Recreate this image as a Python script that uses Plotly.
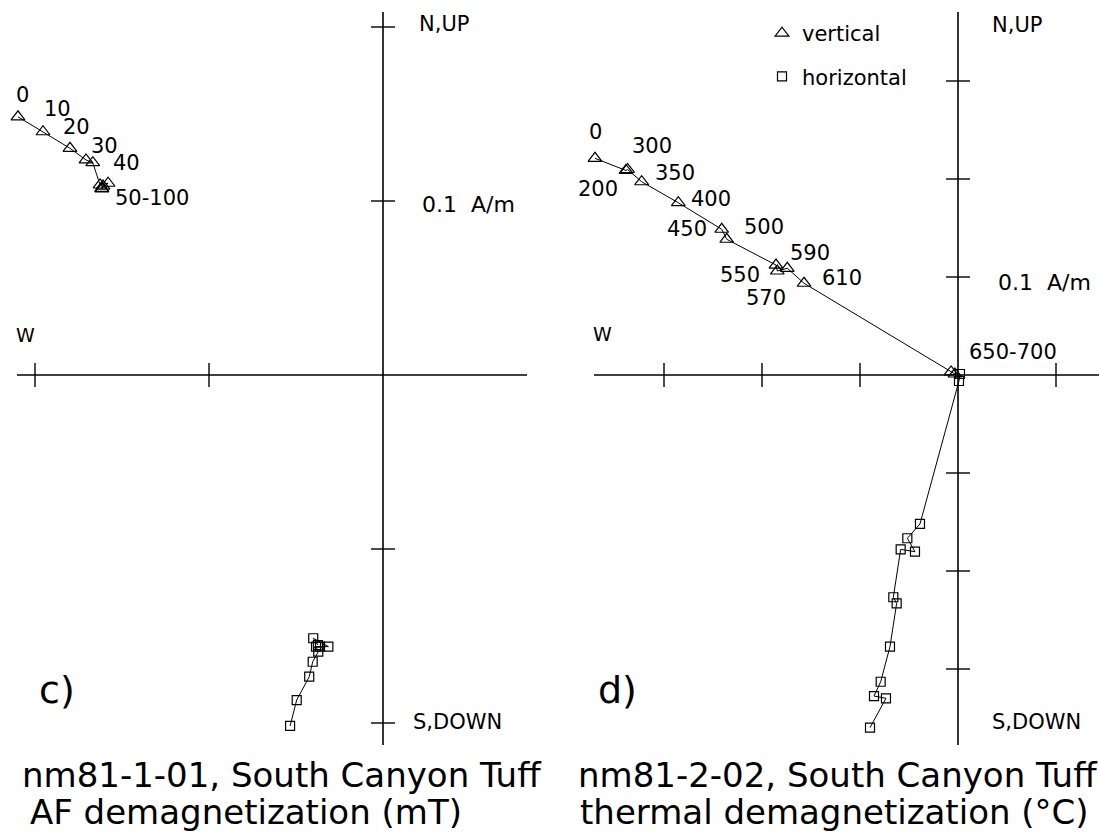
import plotly.graph_objects as go

W, H = 1099, 835

# ---------------- data (A/m) ----------------
# Panel c) nm81-1-01, AF demagnetization (mT)
c_steps = ["0", "10", "20", "30", "40", "50", "60", "70", "80", "100"]
c_vert_x = [-0.2098, -0.1954, -0.1799, -0.1707, -0.1668, -0.1626, -0.1580, -0.1617, -0.1609, -0.1615]
c_vert_y = [0.1484, 0.1398, 0.1303, 0.1236, 0.1220, 0.1092, 0.1102, 0.1073, 0.1086, 0.1069]
c_horiz_x = [-0.0534, -0.0496, -0.0424, -0.0404, -0.0372, -0.0385, -0.0362, -0.0314, -0.0401, -0.0374]
c_horiz_y = [-0.2017, -0.1868, -0.1734, -0.1648, -0.1590, -0.1561, -0.1561, -0.1561, -0.1513, -0.1552]
c_label_text = ["0", "10", "20", "30", "40", "50-100"]
c_label_step = ["0", "10", "20", "30", "40", "50"]

# Panel d) nm81-2-02, thermal demagnetization (C)
d_steps = ["0", "200", "300", "350", "400", "450", "500", "550", "570", "590", "610", "650", "700"]
d_vert_x = [-0.3704, -0.3388, -0.3372, -0.3228, -0.2854, -0.2411, -0.2360, -0.1857, -0.1844, -0.1742, -0.1571, -0.0071, -0.0031]
d_vert_y = [0.2211, 0.2087, 0.2097, 0.1972, 0.1758, 0.1487, 0.1385, 0.1122, 0.1061, 0.1089, 0.0936, 0.0031, 0.0010]
d_horiz_x = [-0.0898, -0.0735, -0.0857, -0.0789, -0.0694, -0.0626, -0.0660, -0.0585, -0.0439, -0.0517, -0.0388, 0.0010, 0.0020]
d_horiz_y = [-0.3599, -0.3299, -0.3276, -0.3130, -0.2772, -0.2330, -0.2268, -0.1779, -0.1803, -0.1666, -0.1520, -0.0061, 0.0010]
d_label_text = ["0", "200", "300", "350", "400", "450", "500", "550", "570", "590", "610", "650-700"]
d_label_step = ["0", "200", "300", "350", "400", "450", "500", "550", "570", "590", "610", "700"]

# axis ticks (A/m)
c_xticks = [-0.2, -0.1]
c_yticks = [0.2, 0.1, -0.1, -0.2]
d_xticks = [-0.3, -0.2, -0.1, 0.1]
d_yticks = [0.3, 0.2, 0.1, -0.1, -0.2, -0.3]

# ---------------- layout / styling ----------------
FONT = "DejaVu Sans"
# label pixel offsets (dx right, dy down) from the labelled point
c_label_off = [(5, -22), (14, -23), (7, -21), (19, -14), (34, 0), (52, 13)]
d_label_off = [(0, -26), (-28, 19), (24, -23), (33, -9), (33, -4), (-35, 0), (37, -12),
               (-36, 10), (-11, 27), (23, -15), (38, -5), (58, -22)]

panels = [
    dict(xa="x", ya="y", ox=383, oy=375, s=1740, dom=(0, 572),
         ext=(17, 527, 12, 745), steps=c_steps,
         vx=c_vert_x, vy=c_vert_y, hx=c_horiz_x, hy=c_horiz_y,
         lt=c_label_text, ls=c_label_step, lo=c_label_off,
         xt=c_xticks, yt=c_yticks,
         up_lbl=(444, 24), a_lbl=(468, 204), down_lbl=(457, 722), w_lbl=(25, 335),
         panel_lbl=("c)", 57, 690),
         cap1=("nm81-1-01, South Canyon Tuff", 20, 775),
         cap2=("AF demagnetization (mT)", 28, 812)),
    dict(xa="x2", ya="y2", ox=958, oy=375, s=980, dom=(574, 1099),
         ext=(594, 1099, 12, 745), steps=d_steps,
         vx=d_vert_x, vy=d_vert_y, hx=d_horiz_x, hy=d_horiz_y,
         lt=d_label_text, ls=d_label_step, lo=d_label_off,
         xt=d_xticks, yt=d_yticks,
         up_lbl=(1017, 25), a_lbl=(1044, 282), down_lbl=(1036, 722), w_lbl=(602, 334),
         panel_lbl=("d)", 617, 690),
         cap1=("nm81-2-02, South Canyon Tuff", 576, 775),
         cap2=("thermal demagnetization (°C)", 578, 812)),
]

fig = go.Figure()
shapes = []
annotations = []
TICK = 12  # px half length

def ann_px(text, px, py, size=20, xanchor="center"):
    annotations.append(dict(text=text, x=px / W, y=1 - py / H, xref="paper", yref="paper",
                            showarrow=False, xanchor=xanchor, yanchor="middle",
                            font=dict(family=FONT, size=size, color="black")))

layout_axes = {}
for i, p in enumerate(panels):
    s, ox, oy = p["s"], p["ox"], p["oy"]
    x0, x1 = p["dom"]
    xname = "xaxis" if i == 0 else "xaxis2"
    yname = "yaxis" if i == 0 else "yaxis2"
    layout_axes[xname] = dict(domain=[x0 / W, x1 / W], range=[(x0 - ox) / s, (x1 - ox) / s],
                              visible=False, fixedrange=True)
    layout_axes[yname] = dict(domain=[0, 1], range=[(oy - H) / s, oy / s],
                              visible=False, fixedrange=True,
                              anchor=p["xa"])
    if i == 1:
        layout_axes[xname]["anchor"] = p["ya"]

    ex0, ex1, ey0, ey1 = p["ext"]
    lc = dict(color="black", width=1.6)
    xr, yr = p["xa"], p["ya"]
    # main axes
    shapes.append(dict(type="line", xref=xr, yref=yr, x0=(ex0 - ox) / s, x1=(ex1 - ox) / s,
                       y0=0, y1=0, line=lc))
    shapes.append(dict(type="line", xref=xr, yref=yr, x0=0, x1=0,
                       y0=(oy - ey0) / s, y1=(oy - ey1) / s, line=lc))
    h = TICK / s
    for tv in p["xt"]:
        shapes.append(dict(type="line", xref=xr, yref=yr, x0=tv, x1=tv, y0=-h, y1=h,
                           line=dict(color="black", width=1.4)))
    for tv in p["yt"]:
        shapes.append(dict(type="line", xref=xr, yref=yr, x0=-h, x1=h, y0=tv, y1=tv,
                           line=dict(color="black", width=1.4)))

    # data traces
    fig.add_trace(go.Scatter(x=p["vx"], y=p["vy"], xaxis=xr, yaxis=yr, mode="lines+markers",
                             line=dict(color="black", width=1),
                             marker=dict(symbol="triangle-up-open", size=12, color="black",
                                         line=dict(width=1.2, color="black")),
                             text=p["steps"], showlegend=False, cliponaxis=False,
                             name="vertical"))
    fig.add_trace(go.Scatter(x=p["hx"], y=p["hy"], xaxis=xr, yaxis=yr, mode="lines+markers",
                             line=dict(color="black", width=1),
                             marker=dict(symbol="square-open", size=9, color="black",
                                         line=dict(width=1.2, color="black")),
                             text=p["steps"], showlegend=False, cliponaxis=False,
                             name="horizontal"))

    # step labels
    for txt, st, (dx, dy) in zip(p["lt"], p["ls"], p["lo"]):
        k = p["steps"].index(st)
        annotations.append(dict(text=txt, x=p["vx"][k], y=p["vy"][k], xref=xr, yref=yr,
                                showarrow=False, xshift=dx, yshift=-dy,
                                font=dict(family=FONT, size=21, color="black")))

    ann_px("N,UP", *p["up_lbl"], size=21)
    ann_px("0.1\u00a0\u00a0A/m", *p["a_lbl"], size=22)
    ann_px("S,DOWN", *p["down_lbl"], size=21)
    ann_px("W", *p["w_lbl"], size=19)
    t, px, py = p["panel_lbl"]
    ann_px(t, px, py, size=38)
    t, px, py = p["cap1"]
    ann_px(t, px, py, size=34, xanchor="left")
    t, px, py = p["cap2"]
    ann_px(t, px, py, size=34, xanchor="left")

# legend entries (marker only)
fig.add_trace(go.Scatter(x=[None], y=[None], xaxis="x2", yaxis="y2", mode="markers",
                         name="vertical", legendgroup="v",
                         marker=dict(symbol="triangle-up-open", size=12, color="black",
                                     line=dict(width=1.2, color="black"))))
fig.add_trace(go.Scatter(x=[None], y=[None], xaxis="x2", yaxis="y2", mode="markers",
                         name="horizontal", legendgroup="h",
                         marker=dict(symbol="square-open", size=9, color="black",
                                     line=dict(width=1.2, color="black"))))

fig.update_layout(
    width=W, height=H,
    margin=dict(l=0, r=0, t=0, b=0),
    paper_bgcolor="white", plot_bgcolor="white",
    shapes=shapes, annotations=annotations,
    showlegend=True,
    legend=dict(x=762 / W, y=1 - 13 / H, xanchor="left", yanchor="top",
                font=dict(family=FONT, size=21, color="black"),
                bgcolor="rgba(0,0,0,0)", borderwidth=0, tracegroupgap=13,
                itemclick=False, itemdoubleclick=False),
    **layout_axes,
)

fig.write_html("out.html")
